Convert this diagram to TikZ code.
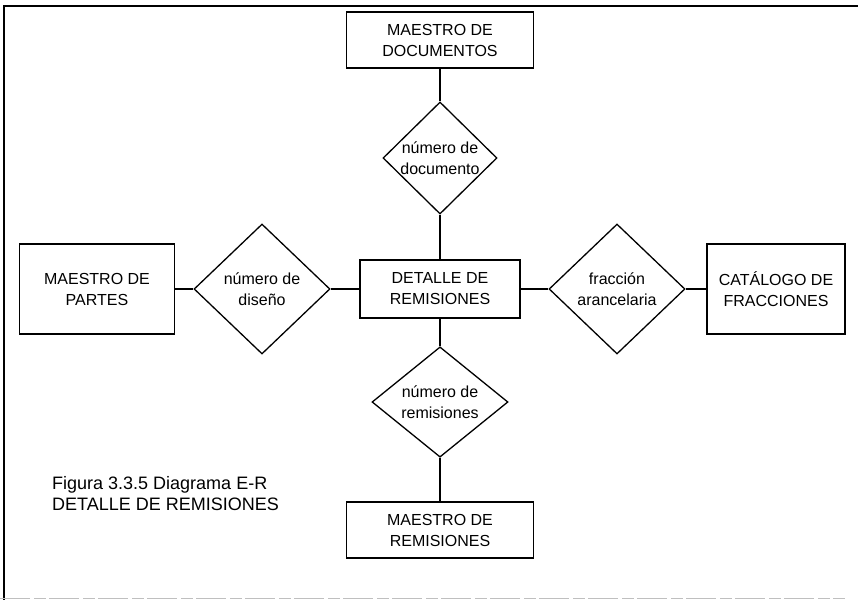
\documentclass[tikz,border=0pt]{standalone}
\usepackage{fontspec}
\setmainfont{Liberation Sans}
\usetikzlibrary{shapes.geometric}
\begin{document}
\begin{tikzpicture}[x=1pt,y=-1pt,
  ent/.style={draw,line width=1.3pt,rectangle,inner sep=0pt,align=center,font=\fontsize{16}{21}\selectfont},
  rel/.style={draw,line width=1.3pt,diamond,inner sep=0pt,align=center,font=\fontsize{16}{21}\selectfont},
  lnk/.style={line width=1.4pt},
  frame/.style={line width=1.1pt}]
\useasboundingbox (0,0) rectangle (858,607);
% frame
\draw[frame] (858,6) -- (4,6) -- (4,600);
\draw[gray!50,line width=1pt,dash pattern=on 30pt off 4pt on 12pt off 3pt] (0,598) -- (845,598);
% entities
\node[ent,minimum width=187pt,minimum height=56pt] (doc) at (440,40) {MAESTRO DE\\DOCUMENTOS};
\node[ent,minimum width=160pt,minimum height=58pt] (det) at (440,289) {DETALLE DE\\REMISIONES};
\node[ent,minimum width=155pt,minimum height=90pt] (par) at (97,289) {MAESTRO DE\\PARTES};
\node[ent,minimum width=138pt,minimum height=90pt] (cat) at (776,289) {CATÁLOGO DE\\FRACCIONES};
\node[ent,minimum width=187pt,minimum height=56pt] (rem) at (440,530) {MAESTRO DE\\REMISIONES};
% relationships
\node[rel,minimum width=114pt,minimum height=112pt] (r1) at (440,158) {número de\\documento};
\node[rel,minimum width=136pt,minimum height=130pt] (r2) at (262,289) {número de\\diseño};
\node[rel,minimum width=136pt,minimum height=130pt] (r3) at (617,289) {fracción\\arancelaria};
\node[rel,minimum width=136pt,minimum height=108pt] (r4) at (440,402) {número de\\remisiones};
% connectors
\draw[lnk] (doc.south) -- (r1.north);
\draw[lnk] (r1.south) -- (det.north);
\draw[lnk] (det.south) -- (r4.north);
\draw[lnk] (r4.south) -- (rem.north);
\draw[lnk] (par.east) -- (r2.west);
\draw[lnk] (r2.east) -- (det.west);
\draw[lnk] (det.east) -- (r3.west);
\draw[lnk] (r3.east) -- (cat.west);
% caption
\node[anchor=north west,align=left,inner sep=0pt,font=\fontsize{18}{21}\selectfont] (cap) at (52,476) {Figura 3.3.5 Diagrama E-R\\DETALLE DE REMISIONES};
\end{tikzpicture}
\end{document}
